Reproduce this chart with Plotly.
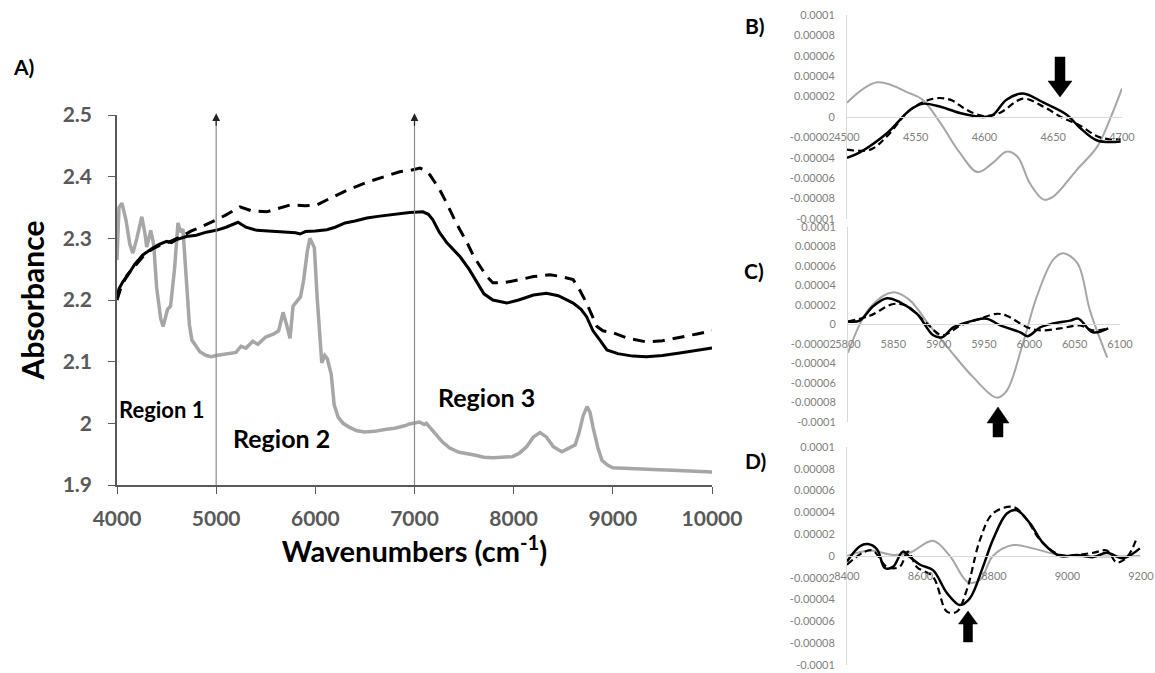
import plotly.graph_objects as go

# the page body margin is removed in the written page, so the figure fills the window from (0, 0)
OFF = 0
W, H = 1155 - OFF, 673 - OFF

# ---------------- Panel A data ----------------
a_gray_x = [4000, 4020, 4050, 4090, 4130, 4160, 4200, 4250, 4280, 4300, 4340, 4370, 4400, 4440, 4465,
            4510, 4540, 4580, 4615, 4640, 4665, 4700, 4730, 4755, 4835, 4900, 4950, 5000, 5100, 5200,
            5250, 5300, 5370, 5420, 5500, 5580, 5630, 5675, 5710, 5745, 5775, 5820, 5850, 5880, 5920,
            5945, 5990, 6020, 6050, 6065, 6095, 6120, 6160, 6190, 6230, 6280, 6350, 6420, 6500, 6600,
            6700, 6800, 6900, 6950, 7050, 7100, 7120, 7200, 7280, 7355, 7450, 7590, 7700, 7790, 7990,
            8060, 8130, 8200, 8265, 8330, 8400, 8485, 8560, 8620, 8660, 8700, 8740, 8770, 8800, 8850,
            8890, 8950, 9000, 9200, 9400, 9600, 9800, 10000]
a_gray_y = [2.265, 2.350, 2.357, 2.330, 2.290, 2.276, 2.300, 2.335, 2.310, 2.286, 2.313, 2.290, 2.220, 2.170, 2.157,
            2.185, 2.190, 2.250, 2.325, 2.310, 2.315, 2.240, 2.160, 2.135, 2.116, 2.110, 2.108, 2.110, 2.112, 2.115,
            2.125, 2.122, 2.133, 2.128, 2.140, 2.145, 2.150, 2.180, 2.160, 2.138, 2.190, 2.200, 2.205, 2.230, 2.280,
            2.300, 2.285, 2.200, 2.120, 2.098, 2.110, 2.105, 2.080, 2.030, 2.010, 2.000, 1.993, 1.988, 1.986, 1.987,
            1.990, 1.992, 1.996, 1.999, 2.002, 1.998, 2.000, 1.985, 1.970, 1.960, 1.953, 1.949, 1.945, 1.944, 1.946,
            1.952, 1.962, 1.978, 1.985, 1.978, 1.962, 1.954, 1.960, 1.965, 1.985, 2.012, 2.027, 2.018, 1.994, 1.960,
            1.940, 1.932, 1.928, 1.926, 1.925, 1.924, 1.923, 1.921]

a_solid_x = [4000, 4020, 4060, 4100, 4180, 4260, 4350, 4420, 4500, 4550, 4600, 4700, 4800, 4900, 5000,
             5100, 5220, 5300, 5410, 5500, 5600, 5700, 5800, 5845, 5900, 6000, 6115, 6200, 6300, 6400,
             6520, 6650, 6750, 6850, 6950, 7085, 7140, 7185, 7250, 7325, 7400, 7460, 7550, 7630, 7700,
             7790, 7930, 8050, 8200, 8330, 8450, 8600, 8680, 8735, 8800, 8870, 8940, 9050, 9200, 9340,
             9500, 9675, 9850, 10000]
a_solid_y = [2.205, 2.218, 2.230, 2.238, 2.258, 2.273, 2.283, 2.290, 2.295, 2.293, 2.298, 2.303, 2.305, 2.310, 2.313,
             2.318, 2.326, 2.318, 2.313, 2.312, 2.311, 2.311, 2.309, 2.307, 2.311, 2.312, 2.314, 2.318, 2.325, 2.328,
             2.333, 2.336, 2.338, 2.341, 2.342, 2.343, 2.339, 2.330, 2.310, 2.293, 2.280, 2.270, 2.250, 2.228, 2.210,
             2.200, 2.195, 2.200, 2.208, 2.211, 2.207, 2.195, 2.185, 2.173, 2.150, 2.135, 2.119, 2.113, 2.109, 2.108,
             2.110, 2.114, 2.118, 2.122]

a_dash_x = [4000, 4040, 4100, 4180, 4260, 4350, 4450, 4550, 4650, 4750, 4840, 5000, 5100, 5240, 5350,
            5510, 5620, 5745, 5900, 6015, 6150, 6320, 6520, 6700, 6850, 6950, 7055, 7110, 7155, 7250,
            7325, 7420, 7530, 7600, 7660, 7720, 7790, 7900, 8060, 8200, 8365, 8480, 8600, 8670, 8735,
            8790, 8840, 8900, 9000, 9150, 9340, 9500, 9675, 9850, 10000]
a_dash_y = [2.200, 2.220, 2.240, 2.255, 2.270, 2.282, 2.290, 2.296, 2.303, 2.312, 2.318, 2.330, 2.338, 2.351, 2.345,
            2.343, 2.348, 2.354, 2.353, 2.354, 2.365, 2.378, 2.391, 2.400, 2.408, 2.410, 2.414, 2.410, 2.403, 2.380,
            2.357, 2.325, 2.293, 2.270, 2.254, 2.240, 2.228, 2.228, 2.233, 2.238, 2.241, 2.238, 2.233, 2.215, 2.195,
            2.175, 2.157, 2.150, 2.147, 2.138, 2.132, 2.134, 2.139, 2.145, 2.150]

a_xticks = [4000, 5000, 6000, 7000, 8000, 9000, 10000]
a_xticktext = ["4000", "5000", "6000", "7000", "8000", "9000", "10000"]
a_yticks = [1.9, 2.0, 2.1, 2.2, 2.3, 2.4, 2.5]
a_yticktext = ["1.9", "2", "2.1", "2.2", "2.3", "2.4", "2.5"]
region_names = ["Region 1", "Region 2", "Region 3"]
region_x = [4000, 5663, 7730]
region_y = [2.022, 1.977, 2.043]
arrow_lines_x = [5000, 7000]

# ---------------- Panel B data ----------------
b_gray_x = [4500, 4522, 4546, 4555, 4568, 4582, 4595, 4606, 4616, 4624, 4633, 4643, 4650, 4667, 4682, 4691, 4700]
b_gray_y = [1.4e-5, 3.4e-5, 2.3e-5, 1.7e-5, -0.6e-5, -3.5e-5, -5.4e-5, -4.5e-5, -3.4e-5, -3.9e-5, -6.5e-5,
            -8.1e-5, -7.8e-5, -5.2e-5, -2.9e-5, -0.3e-5, 2.8e-5]
b_solid_x = [4500, 4509, 4529, 4546, 4555, 4568, 4582, 4599, 4606, 4616, 4628, 4643, 4660, 4669, 4682, 4699]
b_solid_y = [-4.0e-5, -3.5e-5, -1.6e-5, 0.7e-5, 1.3e-5, 1.0e-5, 0.4e-5, 0.0, 0.2e-5, 1.7e-5, 2.3e-5, 1.4e-5,
             0.2e-5, -1.0e-5, -2.3e-5, -2.4e-5]
b_dash_x = [4500, 4517, 4529, 4546, 4563, 4575, 4587, 4599, 4611, 4628, 4643, 4657, 4669, 4684, 4699]
b_dash_y = [-3.2e-5, -3.2e-5, -1.9e-5, 0.7e-5, 1.8e-5, 1.7e-5, 0.7e-5, 0.1e-5, 0.4e-5, 1.8e-5, 1.0e-5,
            -0.1e-5, -0.8e-5, -2.0e-5, -2.2e-5]
b_xticks = [4500, 4550, 4600, 4650, 4700]

# ---------------- Panel C data ----------------
c_gray_x = [5800, 5824, 5850, 5868, 5890, 5913, 5938, 5964, 5975, 5993, 6008, 6026, 6037, 6053, 6067, 6086]
c_gray_y = [-2.9e-5, 1.7e-5, 3.3e-5, 2.5e-5, -0.1e-5, -2.7e-5, -5.4e-5, -7.5e-5, -6.8e-5, -1.9e-5, 2.8e-5,
            6.6e-5, 7.3e-5, 6.3e-5, 1.4e-5, -3.4e-5]
c_solid_x = [5800, 5813, 5828, 5843, 5857, 5876, 5894, 5904, 5916, 5938, 5953, 5968, 5990, 5998, 6012, 6026,
             6045, 6054, 6070, 6087]
c_solid_y = [0.3e-5, 0.4e-5, 1.9e-5, 2.7e-5, 2.3e-5, 1.1e-5, -1.1e-5, -1.3e-5, -0.3e-5, 0.4e-5, 0.6e-5,
             -0.1e-5, -0.8e-5, -1.2e-5, -0.3e-5, 0.1e-5, 0.4e-5, 0.6e-5, -0.8e-5, -0.4e-5]
c_dash_x = [5800, 5824, 5850, 5865, 5887, 5904, 5924, 5946, 5964, 5975, 5998, 6012, 6034, 6056, 6070, 6087]
c_dash_y = [0.3e-5, 0.9e-5, 2.1e-5, 1.9e-5, 0.1e-5, -1.1e-5, -0.1e-5, 0.6e-5, 1.1e-5, 0.9e-5, -0.3e-5,
            -0.6e-5, -0.4e-5, -0.1e-5, -0.6e-5, -0.4e-5]
c_xticks = [5800, 5850, 5900, 5950, 6000, 6050, 6100]

# ---------------- Panel D data ----------------
d_gray_x = [8400, 8463, 8525, 8571, 8634, 8680, 8729, 8762, 8797, 8852, 8906, 8980, 9197]
d_gray_y = [0.0, 0.5e-5, 0.1e-5, 0.3e-5, 1.4e-5, 0.0, -2.4e-5, -2.2e-5, 0.0, 1.0e-5, 0.7e-5, 0.1e-5, 0.0]
d_solid_x = [8400, 8435, 8457, 8482, 8503, 8525, 8552, 8571, 8599, 8634, 8672, 8707, 8734, 8770, 8797, 8835,
             8862, 8898, 8933, 8980, 9025, 9070, 9107, 9151, 9197]
d_solid_y = [-0.5e-5, 0.9e-5, 1.1e-5, 0.6e-5, -1.1e-5, -1.0e-5, 0.4e-5, -0.1e-5, -0.8e-5, -1.3e-5, -3.4e-5,
             -4.5e-5, -3.9e-5, -1.0e-5, 1.5e-5, 3.9e-5, 4.2e-5, 3.0e-5, 1.2e-5, 0.0, 0.1e-5, -0.1e-5, 0.3e-5,
             -0.2e-5, 0.7e-5]
d_dash_x = [8400, 8443, 8470, 8509, 8543, 8566, 8590, 8634, 8672, 8699, 8726, 8762, 8797, 8852, 8890, 8925,
            8980, 9070, 9107, 9134, 9162, 9189]
d_dash_y = [-0.8e-5, 0.3e-5, 0.5e-5, -1.0e-5, -1.0e-5, 0.4e-5, -1.0e-5, -1.9e-5, -5.1e-5, -5.1e-5, -3.1e-5,
            1.5e-5, 3.9e-5, 4.5e-5, 3.3e-5, 1.5e-5, 0.1e-5, 0.3e-5, 0.5e-5, -0.6e-5, -0.1e-5, 1.7e-5]
d_xticks = [8400, 8600, 8800, 9000, 9200]

small_yticks = [1e-4, 8e-5, 6e-5, 4e-5, 2e-5, 0, -2e-5, -4e-5, -6e-5, -8e-5, -1e-4]
small_yticktext = ["0.0001", "0.00008", "0.00006", "0.00004", "0.00002", "0",
                   "-0.00002", "-0.00004", "-0.00006", "-0.00008", "-0.0001"]

# ---------------- styling ----------------
FONT = "Lato"
GRAY = "#a6a6a6"
DARK = "#595959"
LIGHT = "#d9d9d9"


def px_x(p):
    return (p - OFF) / W


def px_y(p):
    return 1 - (p - OFF) / H


fig = go.Figure()

# Panel A traces
fig.add_trace(go.Scatter(x=a_gray_x, y=a_gray_y, mode="lines", line=dict(color=GRAY, width=3.5),
                         xaxis="x", yaxis="y", showlegend=False))
fig.add_trace(go.Scatter(x=a_dash_x, y=a_dash_y, mode="lines", line=dict(color="black", width=3, dash="12px,8px"),
                         xaxis="x", yaxis="y", showlegend=False))
fig.add_trace(go.Scatter(x=a_solid_x, y=a_solid_y, mode="lines", line=dict(color="black", width=3),
                         xaxis="x", yaxis="y", showlegend=False))

# Panels B-D
panels = [
    ("2", b_gray_x, b_gray_y, b_solid_x, b_solid_y, b_dash_x, b_dash_y),
    ("3", c_gray_x, c_gray_y, c_solid_x, c_solid_y, c_dash_x, c_dash_y),
    ("4", d_gray_x, d_gray_y, d_solid_x, d_solid_y, d_dash_x, d_dash_y),
]
for n, gx, gy, sx, sy, dx, dy in panels:
    fig.add_trace(go.Scatter(x=gx, y=gy, mode="lines", line=dict(color=GRAY, width=2, shape="spline"),
                             xaxis="x" + n, yaxis="y" + n, showlegend=False, cliponaxis=False))
    fig.add_trace(go.Scatter(x=dx, y=dy, mode="lines",
                             line=dict(color="black", width=2.2, dash="7px,4px", shape="spline"),
                             xaxis="x" + n, yaxis="y" + n, showlegend=False, cliponaxis=False))
    fig.add_trace(go.Scatter(x=sx, y=sy, mode="lines", line=dict(color="black", width=2.5, shape="spline"),
                             xaxis="x" + n, yaxis="y" + n, showlegend=False, cliponaxis=False))

tickfontA = dict(family=FONT, size=21, color=DARK, weight="bold")
tickfontS = dict(family=FONT, size=11, color="#7f7f7f")

layout = dict(
    width=W, height=H,
    margin=dict(l=0, r=0, t=0, b=0),
    paper_bgcolor="white", plot_bgcolor="white",
    font=dict(family=FONT),
    xaxis=dict(domain=[px_x(117), px_x(712)], range=[4000, 10000], tickvals=a_xticks, ticktext=a_xticktext,
               showline=True, linecolor=DARK, linewidth=1.5, ticks="outside", ticklen=7, tickcolor=DARK,
               tickfont=tickfontA, showgrid=False, zeroline=False, anchor="y", automargin=False,
               ticklabelstandoff=7,
               title=dict(text="Wavenumbers (cm<sup>-1</sup>)",
                          font=dict(family=FONT, size=29, color="black", weight="bold"), standoff=0)),
    yaxis=dict(domain=[px_y(485), px_y(115)], range=[1.9, 2.5], tickvals=a_yticks, ticktext=a_yticktext,
               showline=True, linecolor=DARK, linewidth=1.5, ticks="outside", ticklen=7, tickcolor=DARK,
               tickfont=tickfontA, showgrid=False, zeroline=False, anchor="x", ticklabelstandoff=12,
               automargin=False,
               title=dict(text="Absorbance", font=dict(family=FONT, size=30, color="black", weight="bold"),
                          standoff=9)),
)

small_specs = {
    "2": dict(xd=[847, 1122], yd=[219, 15], xr=[4500, 4700], xt=b_xticks, zero=117),
    "3": dict(xd=[848, 1120], yd=[422, 227], xr=[5800, 6100], xt=c_xticks, zero=324),
    "4": dict(xd=[847, 1141], yd=[665, 447], xr=[8400, 9200], xt=d_xticks, zero=556),
}
for n, s in small_specs.items():
    layout["xaxis" + n] = dict(domain=[px_x(s["xd"][0]), px_x(s["xd"][1])], range=s["xr"], tickvals=s["xt"],
                               anchor="free", position=px_y(s["zero"]), showline=True, linecolor=LIGHT,
                               linewidth=1, ticks="", tickfont=tickfontS, showgrid=False, zeroline=False,
                               ticklabelstandoff=10, automargin=False, ticklabeloverflow="allow")
    layout["yaxis" + n] = dict(domain=[px_y(s["yd"][0]), px_y(s["yd"][1])], range=[-1e-4, 1e-4],
                               tickvals=small_yticks, ticktext=small_yticktext, anchor="x" + n,
                               showline=True, linecolor=LIGHT, linewidth=1, ticks="", tickfont=tickfontS,
                               showgrid=False, zeroline=False, ticklabelstandoff=9, automargin=False,
                               ticklabeloverflow="allow")

fig.update_layout(**layout)

# vertical arrows in panel A
for xv in arrow_lines_x:
    fig.add_shape(type="line", xref="x", yref="y", x0=xv, x1=xv, y0=1.9, y1=2.49,
                  line=dict(color="#8c8c8c", width=1.2))
    fig.add_annotation(x=xv, y=2.503, ax=xv, ay=2.48, xref="x", yref="y", axref="x", ayref="y",
                       showarrow=True, arrowhead=2, arrowsize=1.3, arrowwidth=1.2, arrowcolor="#222", text="")

# region labels
region_sizes = [22, 25, 25]
region_anchor = ["left", "center", "center"]
for name, rx, ry, fs, anc in zip(region_names, region_x, region_y, region_sizes, region_anchor):
    fig.add_annotation(x=rx, y=ry, xref="x", yref="y", text=name, showarrow=False, xanchor=anc,
                       yanchor="middle", font=dict(family=FONT, size=fs, color="black", weight="bold"))

# panel letters
for lab, lx, ly in [("A)", 23, 67), ("B)", 755, 26), ("C)", 754, 270), ("D)", 755, 460)]:
    fig.add_annotation(x=px_x(lx), y=px_y(ly), xref="paper", yref="paper", text=lab, showarrow=False,
                       xanchor="center", yanchor="middle",
                       font=dict(family=FONT, size=21, color="black", weight="bold"))


# thick block arrows (B, C, D)
def block_arrow(cx, tip, tail, head_len, head_w, shaft_w):
    d = 1 if tail > tip else -1  # pointing up when tail below tip (pixel coordinates)
    hb = tip + d * head_len
    pts = [(cx, tip), (cx + head_w / 2, hb), (cx + shaft_w / 2, hb), (cx + shaft_w / 2, tail),
           (cx - shaft_w / 2, tail), (cx - shaft_w / 2, hb), (cx - head_w / 2, hb)]
    path = "M " + " L ".join(f"{px_x(x):.5f},{px_y(y):.5f}" for x, y in pts) + " Z"
    fig.add_shape(type="path", xref="paper", yref="paper", path=path, fillcolor="black",
                  line=dict(color="black", width=0.5))


block_arrow(1060, 97, 57, 16, 24, 10)
block_arrow(998, 407, 437, 16, 22, 10)
block_arrow(968, 611, 642, 13, 19, 9)

fig.write_html("out.html", config={"displayModeBar": False},
               post_script="document.body.style.margin='0';document.body.style.overflow='hidden';")
